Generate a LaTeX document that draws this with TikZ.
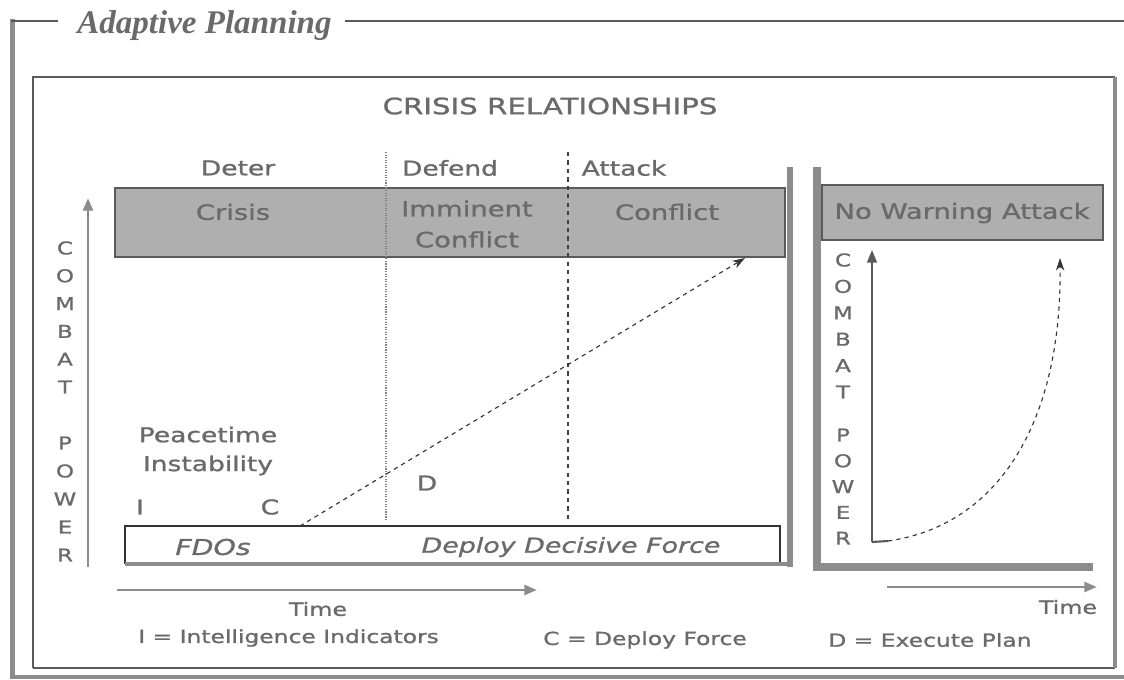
\documentclass[tikz,border=0pt]{standalone}
\usepackage{fontspec}
\setmainfont{Liberation Serif}
\newfontfamily\widesans[FakeStretch=1.3,FakeBold=1.2]{DejaVu Sans}
\usetikzlibrary{arrows.meta}

\definecolor{inkgray}{HTML}{6A6A6A}
\definecolor{bandgray}{HTML}{AFAFAF}
\definecolor{bargray}{HTML}{8C8C8C}
\definecolor{rulegray}{HTML}{5A5A5A}

\newcommand{\wsz}[1]{\widesans\fontsize{#1}{#1}\selectfont}

\begin{document}
\begin{tikzpicture}[x=0.025cm,y=-0.025cm,>=Stealth,
    lbl/.style={text=inkgray,font=\wsz{14.5},inner sep=0pt},
    bandlbl/.style={lbl,font=\wsz{15}},
    keylbl/.style={lbl,font=\wsz{12.8},anchor=west},
    tiny/.style={lbl,font=\wsz{12.5}},
    band/.style={fill=bandgray,draw=rulegray,line width=0.8pt},
    bar/.style={draw=bargray,line width=4.5pt},
    rule/.style={draw=rulegray,line width=2pt},
    axis/.style={draw=bargray,line width=2pt,-{Triangle[length=9pt,width=7pt]}}]
    \useasboundingbox (0,0) rectangle (1124,679);

    % Outer frame and title
    \node[anchor=base west,text=inkgray,font=\fontsize{23.5}{25}\selectfont\bfseries\itshape,inner sep=0pt]
        (title) at (77,33) {Adaptive Planning};
    \draw[bar,line width=3.5pt] (12.5,19) -- (12.5,677) -- (1124,677);
    \draw[rule] (11,21) -- (58,21);
    \draw[rule] (345,21) -- (1124,21);

    % Inner frame
    \draw[rule,line width=1.8pt] (33,668) -- (33,77) -- (1115,77);
    \draw[rule,line width=1.8pt] (33,668) -- (1115,668);
    \draw[bar,line width=3.5pt] (1115,77) -- (1115,668);

    \node[lbl,font=\wsz{16}] (crisisrel) at (550,106) {CRISIS RELATIONSHIPS};

    % Phase headers
    \node[lbl] (deter)  at (238,168) {Deter};
    \node[lbl] (defend) at (450,168) {Defend};
    \node[lbl] (attack) at (624,168) {Attack};

    % Crisis band
    \draw[band] (115,188) rectangle (785,257);
    \node[bandlbl] (crisis)   at (233,212) {Crisis};
    \node[bandlbl,align=center] (imminent) at (467,224) {Imminent\\[7pt]Conflict};
    \node[bandlbl] (conflict) at (667,212) {Conflict};

    % Phase dividers
    \draw[gray,densely dotted,line width=0.8pt] (386,152) -- (386,520);
    \draw[black!75,dashed,line width=0.8pt] (568,152) -- (568,520);

    % Left axis
    \coordinate (lbase) at (88,567);
    \coordinate (ltop)  at (88,198);
    \draw[axis] (lbase) -- (ltop);
    \foreach \ch [count=\i] in {C,O,M,B,A,T}
        \node[tiny] (lcombat\i) at (65,{248+27.8*(\i-1)}) {\ch};
    \foreach \ch [count=\i] in {P,O,W,E,R}
        \node[tiny] (lpower\i) at (65,{443+28*(\i-1)}) {\ch};

    \node[lbl,align=center] (peace) at (208,451) {Peacetime\\[6pt]Instability};
    \node[lbl] (mi) at (140,507) {I};
    \node[lbl] (mc) at (270,507) {C};
    \node[lbl] (md) at (427,483) {D};

    % Force box
    \draw[black!80,line width=0.8pt] (125,564) -- (125,526) -- (780,526) -- (780,564);
    \draw[bar,line width=3pt] (125,564) -- (790,564);
    \node[lbl,font=\wsz{15.5}\itshape] (fdos) at (213,547) {FDOs};
    \node[lbl,font=\wsz{14.7}\itshape] (deploy) at (571,547) {Deploy Decisive Force};

    % Build-up of force
    \coordinate (rise0) at (300,526);
    \coordinate (rise1) at (745,258);
    \draw[black!80,dashed,line width=0.8pt,-{Stealth[length=9pt,width=6pt]}] (rise0) -- (rise1);

    % Panel bars
    \draw[bar] (790,167) -- (790,567);
    \draw[bar,line width=6pt] (817,167) -- (817,567) -- (1093,567);

    % No warning panel
    \draw[band] (822,185) rectangle (1103,240);
    \node[bandlbl] (nowarn) at (962,213) {No Warning Attack};

    \coordinate (rbase) at (872,542);
    \coordinate (rtop)  at (872,250);
    \coordinate (rfoot) at (888,541);
    \draw[axis,line width=1.5pt,draw=rulegray] (rbase) -- (rtop);
    \draw[rulegray,line width=1.5pt] (rbase) -- (rfoot);
    \foreach \ch [count=\i] in {C,O,M,B,A,T}
        \node[tiny] (rcombat\i) at (843,{260+26.4*(\i-1)}) {\ch};
    \foreach \ch [count=\i] in {P,O,W,E,R}
        \node[tiny] (rpower\i) at (843,{435+25.8*(\i-1)}) {\ch};

    \coordinate (surge) at (1060,258);
    \draw[black!80,dashed,line width=0.8pt,-{Stealth[length=9pt,width=6pt]}]
        (rfoot) .. controls (1000,525) and (1062,420) .. (surge);

    % Time axes
    \coordinate (lt0) at (117,590);
    \coordinate (lt1) at (537,590);
    \draw[axis] (lt0) -- (lt1);
    \node[lbl,font=\wsz{13}] (ltime) at (318,609) {Time};
    \coordinate (rt0) at (887,587);
    \coordinate (rt1) at (1097,587);
    \draw[axis] (rt0) -- (rt1);
    \node[lbl,font=\wsz{13}] (rtime) at (1068,607) {Time};

    % Key
    \node[keylbl] (keyi) at (138,638) {I = Intelligence Indicators};
    \node[keylbl] (keyc) at (543,640) {C = Deploy Force};
    \node[keylbl] (keyd) at (828,640) {D = Execute Plan};
\end{tikzpicture}
\end{document}
